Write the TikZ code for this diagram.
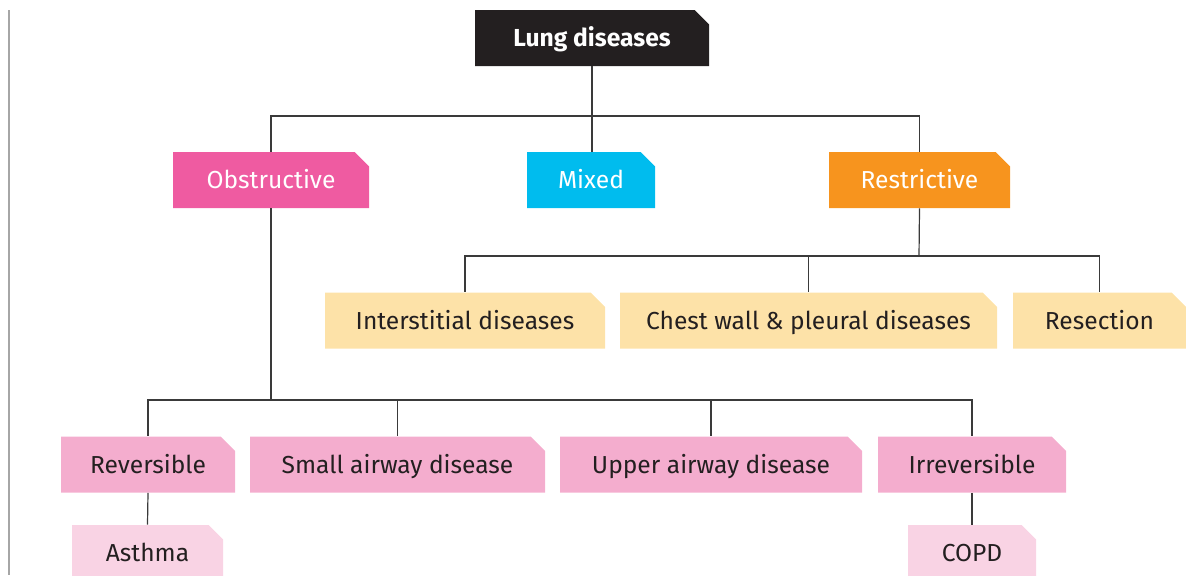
\documentclass[tikz,border=0pt]{standalone}
\usepackage{fontspec}
\setmainfont{Fira Sans}
\usepackage{tikz}
\usetikzlibrary{shapes.misc,positioning,calc}
\usepackage{xcolor}

\definecolor{topblack}{HTML}{231F20}
\definecolor{obspink}{HTML}{EF5BA1}
\definecolor{mixcyan}{HTML}{00BCEE}
\definecolor{resorange}{HTML}{F7941E}
\definecolor{reslight}{HTML}{FDE2A8}
\definecolor{obsmid}{HTML}{F4ADCE}
\definecolor{obslight}{HTML}{F9D3E4}
\definecolor{linkgray}{HTML}{3A3A3A}

\begin{document}
\begin{tikzpicture}[x=0.5pt,y=-0.5pt,
    dbox/.style={chamfered rectangle, chamfered rectangle corners=north east,
        chamfered rectangle xsep=3.6pt, chamfered rectangle ysep=3.6pt,
        draw=none, inner sep=0pt, minimum height=28pt,
        text height=10pt, text depth=1.2pt,
        font=\fontsize{12.3}{14}\selectfont},
    darkbox/.style={dbox, fill=#1, text=white},
    lightbox/.style={dbox, fill=#1, text=topblack},
    link/.style={draw=linkgray, line width=0.6pt}]
    \clip (0,0) rectangle (1186,575);

    % Side rule
    \draw[gray!70, line width=0.8pt] (9,10) -- (9,575);

    % Top level
    \node[darkbox=topblack, minimum width=117pt, font=\fontsize{12.3}{14}\selectfont\bfseries] (lung) at (592,38) {Lung diseases};

    % Groups
    \node[darkbox=obspink, minimum width=98pt] (obs) at (271,180) {Obstructive};
    \node[darkbox=mixcyan, minimum width=64pt] (mix) at (591,180) {Mixed};
    \node[darkbox=resorange, minimum width=90.5pt] (res) at (919.5,180) {Restrictive};

    % Restrictive kinds
    \node[lightbox=reslight, minimum width=140pt] (inter) at (465,320.5) {Interstitial diseases};
    \node[lightbox=reslight, minimum width=188.5pt] (chest) at (808.5,320.5) {Chest wall \& pleural diseases};
    \node[lightbox=reslight, minimum width=86.5pt] (resec) at (1099.5,320.5) {Resection};

    % Obstructive kinds
    \node[lightbox=obsmid, minimum width=87pt] (rev) at (148,464.5) {Reversible};
    \node[lightbox=obsmid, minimum width=147.5pt] (small) at (397.5,464.5) {Small airway disease};
    \node[lightbox=obsmid, minimum width=151pt] (upper) at (711,464.5) {Upper airway disease};
    \node[lightbox=obsmid, minimum width=94pt] (irrev) at (972,464.5) {Irreversible};

    % Examples
    \node[lightbox=obslight, minimum width=75.5pt] (asthma) at (147.5,553) {Asthma};
    \node[lightbox=obslight, minimum width=64pt] (copd) at (972,553) {COPD};

    % Connectors
    \coordinate (jtop) at (592,116);
    \coordinate (jres) at (919,256);
    \coordinate (jobs) at (271,400);
    \draw[link] (lung.south) -- (jtop);
    \draw[link] (jtop) -| (obs.north);
    \draw[link] (jtop) -| (res.north);
    \draw[link] (jtop) -- (jtop |- mix.north);

    \draw[link] (res.south) -- (jres);
    \draw[link] (jres) -| (inter.north);
    \draw[link] (jres) -| (chest.north);
    \draw[link] (jres) -| (resec.north);

    \draw[link] (obs.south) -- (jobs);
    \draw[link] (jobs) -| (rev.north);
    \draw[link] (jobs) -| (small.north);
    \draw[link] (jobs) -| (upper.north);
    \draw[link] (jobs) -| (irrev.north);

    \draw[link] (rev.south) -- (asthma.north);
    \draw[link] (irrev.south) -- (copd.north);
\end{tikzpicture}
\end{document}
